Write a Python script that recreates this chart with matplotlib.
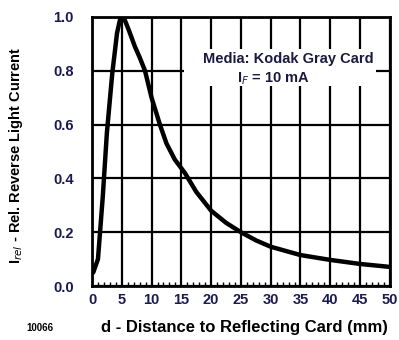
import matplotlib
matplotlib.use("Agg")
import matplotlib.pyplot as plt
from matplotlib.ticker import MultipleLocator
from matplotlib.patches import Rectangle

distance_mm = [0.2, 1.0, 1.8, 2.5, 3.4, 4.2, 4.8, 5.3, 6.2, 7.2, 8.0, 8.9, 10, 11.4, 12.5,
               13.9, 15.6, 17.5, 20, 22.5, 25, 27.5, 30, 35, 40, 45, 50]
rel_current = [0.05, 0.1, 0.33, 0.57, 0.79, 0.94, 1.0, 1.0, 0.95, 0.89, 0.85, 0.8, 0.7,
               0.6, 0.53, 0.47, 0.42, 0.35, 0.28, 0.235, 0.2, 0.17, 0.146, 0.115, 0.097,
               0.082, 0.071]
x_ticks = [0, 5, 10, 15, 20, 25, 30, 35, 40, 45, 50]
x_tick_labels = ["0", "5", "10", "15", "20", "25", "30", "35", "40", "45", "50"]
y_ticks = [0.0, 0.2, 0.4, 0.6, 0.8, 1.0]
y_tick_labels = ["0.0", "0.2", "0.4", "0.6", "0.8", "1.0"]

plt.rcParams['font.family'] = ['Liberation Sans', 'DejaVu Sans']
fig = plt.figure(figsize=(3.99, 3.40), dpi=100)
ax = fig.add_axes([0.2306, 0.1588, 0.7464, 0.7912])

ax.plot(distance_mm, rel_current, color="black", lw=3.2, solid_capstyle="round",
        solid_joinstyle="round", zorder=4)
ax.set_xlim(0, 50)
ax.set_ylim(0, 1.0)
ax.set_xticks(x_ticks)
ax.set_xticklabels(x_tick_labels, fontsize=10.5, fontweight="bold", color="#1a1a50")
ax.set_yticks(y_ticks)
ax.set_yticklabels(y_tick_labels, fontsize=10.5, fontweight="bold", color="#1a1a50")
ax.xaxis.set_minor_locator(MultipleLocator(1))
ax.tick_params(axis="y", which="major", length=0, pad=13)
ax.tick_params(axis="x", which="major", length=0, pad=5)
ax.tick_params(axis="x", which="minor", direction="in", length=3, width=1, color="black")
ax.grid(True, which="major", color="black", lw=1.6, zorder=1)
for s in ax.spines.values():
    s.set_linewidth(2)

ax.add_patch(Rectangle((0.31, 0.744), 0.645, 0.137, transform=ax.transAxes,
                       facecolor="white", edgecolor="none", zorder=3))
ax.text(0.658, 0.844, "Media: Kodak Gray Card", transform=ax.transAxes, ha="center",
        va="center", fontsize=10.5, fontweight="bold", color="#1a1a40", zorder=5)
ax.text(0.61, 0.77, "I$_F$ = 10 mA", transform=ax.transAxes, ha="center", va="center",
        fontsize=10.5, fontweight="bold", color="#1a1a40", zorder=5)

ax.set_xlabel("d - Distance to Reflecting Card (mm)", fontsize=12, fontweight="bold",
              va="center")
ax.xaxis.set_label_coords(0.513, -0.155)
ax.set_ylabel("I$_{rel}$ - Rel. Reverse Light Current", fontsize=10.5, fontweight="bold",
              va="center")
ax.yaxis.set_label_coords(-0.255, 0.485)
fig.text(0.1, 0.035, "10066", fontsize=7, fontweight="bold", ha="center", va="center")

fig.savefig("out.png", dpi=100)
